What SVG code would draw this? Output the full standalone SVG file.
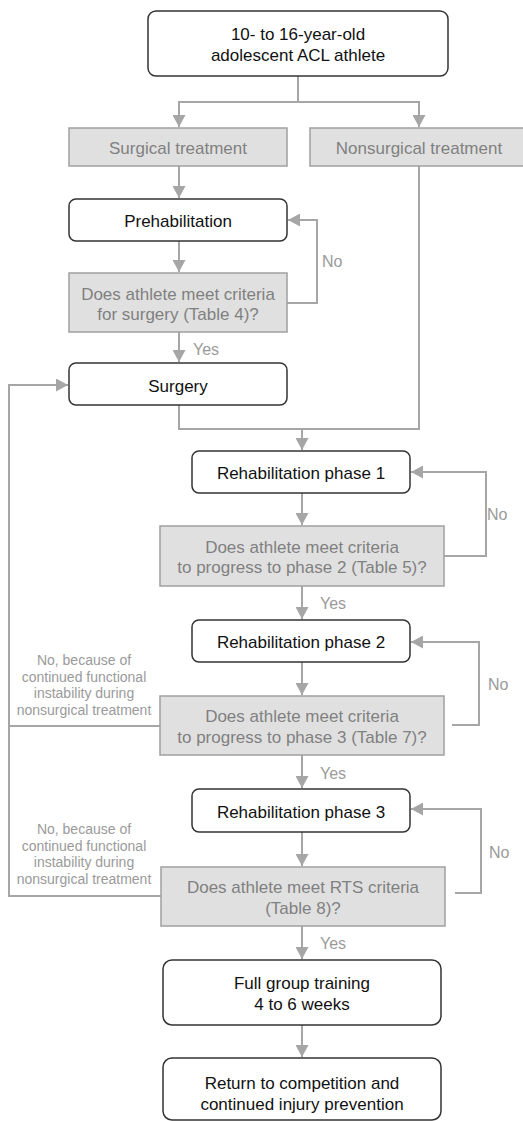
<svg xmlns="http://www.w3.org/2000/svg" width="523" height="1121" viewBox="0 0 523 1121">
<style>
.w{fill:#ffffff;stroke:#333333;stroke-width:1.5}
.g{fill:#e0e0e0;stroke:#a0a0a0;stroke-width:1.5}
.tb{font-family:"Liberation Sans",Arial,sans-serif;font-size:17px;fill:#111111;text-anchor:middle}
.tg{font-family:"Liberation Sans",Arial,sans-serif;font-size:17px;fill:#808080;text-anchor:middle}
.lb{font-family:"Liberation Sans",Arial,sans-serif;font-size:16px;fill:#9a9a9a}
.sm{font-family:"Liberation Sans",Arial,sans-serif;font-size:14px;fill:#9a9a9a;text-anchor:middle}
.c{fill:none;stroke:#a6a6a6;stroke-width:2}
</style>
<defs>
<marker id="ah" markerUnits="userSpaceOnUse" markerWidth="13" markerHeight="13" refX="12" refY="6.5" orient="auto" viewBox="0 0 13 13">
<path d="M0,0 L12,6.5 L0,13 z" fill="#a6a6a6"/>
</marker>
</defs>
<rect width="523" height="1121" fill="#ffffff"/>
<g id="connectors">
<path class="c" d="M298,76 V102 H179 V127" marker-end="url(#ah)"/>
<path class="c" d="M298,102 H419 V127" marker-end="url(#ah)"/>
<path class="c" d="M179,166 V198" marker-end="url(#ah)"/>
<path class="c" d="M179,241 V272" marker-end="url(#ah)"/>
<path class="c" d="M287,303 H317 V220 H288" marker-end="url(#ah)"/>
<path class="c" d="M179,332 V362" marker-end="url(#ah)"/>
<path class="c" d="M179,405 V429 H419 V166"/>
<path class="c" d="M302,429 V450" marker-end="url(#ah)"/>
<path class="c" d="M302,493 V525" marker-end="url(#ah)"/>
<path class="c" d="M444,556 H486 V472 H411" marker-end="url(#ah)"/>
<path class="c" d="M302,586 V619" marker-end="url(#ah)"/>
<path class="c" d="M302,662 V695" marker-end="url(#ah)"/>
<path class="c" d="M452,725 H479 V642 H411" marker-end="url(#ah)"/>
<path class="c" d="M160,726 H9"/>
<path class="c" d="M161,896 H9 V385 H68" marker-end="url(#ah)"/>
<path class="c" d="M302,755 V788" marker-end="url(#ah)"/>
<path class="c" d="M302,832 V866" marker-end="url(#ah)"/>
<path class="c" d="M455,893 H481 V809 H411" marker-end="url(#ah)"/>
<path class="c" d="M302,926 V959" marker-end="url(#ah)"/>
<path class="c" d="M302,1025 V1057" marker-end="url(#ah)"/>
<text class="lb" x="322" y="267">No</text>
<text class="lb" x="193" y="355">Yes</text>
<text class="lb" x="487" y="520">No</text>
<text class="lb" x="320" y="609">Yes</text>
<text class="lb" x="488" y="690">No</text>
<text class="lb" x="320" y="779">Yes</text>
<text class="lb" x="489" y="858">No</text>
<text class="lb" x="320" y="949">Yes</text>
<text class="sm" x="84" y="665">No, because of</text>
<text class="sm" x="84" y="682">continued functional</text>
<text class="sm" x="84" y="698">instability during</text>
<text class="sm" x="84" y="715">nonsurgical treatment</text>
<text class="sm" x="84" y="834">No, because of</text>
<text class="sm" x="84" y="851">continued functional</text>
<text class="sm" x="84" y="867">instability during</text>
<text class="sm" x="84" y="884">nonsurgical treatment</text>
</g>
<g id="start">
<rect class="w" x="148" y="11" width="300" height="65" rx="8"/>
<text class="tb" x="298" y="40">10- to 16-year-old</text>
<text class="tb" x="298" y="61">adolescent ACL athlete</text>
</g>
<g id="surgical">
<rect class="g" x="69" y="128" width="218" height="38"/>
<text class="tg" x="178" y="154">Surgical treatment</text>
</g>
<g id="nonsurgical">
<rect class="g" x="310" y="128" width="218" height="38"/>
<text class="tg" x="419" y="154">Nonsurgical treatment</text>
</g>
<g id="prehab">
<rect class="w" x="69" y="199" width="218" height="42" rx="7"/>
<text class="tb" x="178" y="227">Prehabilitation</text>
</g>
<g id="decision1">
<rect class="g" x="69" y="273" width="218" height="59"/>
<text class="tg" x="178" y="300">Does athlete meet criteria</text>
<text class="tg" x="178" y="320">for surgery (Table 4)?</text>
</g>
<g id="surgery">
<rect class="w" x="69" y="363" width="218" height="42" rx="7"/>
<text class="tb" x="178" y="392">Surgery</text>
</g>
<g id="rehab1">
<rect class="w" x="192" y="451" width="218" height="42" rx="7"/>
<text class="tb" x="301" y="479">Rehabilitation phase 1</text>
</g>
<g id="decision2">
<rect class="g" x="160" y="526" width="284" height="60"/>
<text class="tg" x="302" y="553">Does athlete meet criteria</text>
<text class="tg" x="302" y="573">to progress to phase 2 (Table 5)?</text>
</g>
<g id="rehab2">
<rect class="w" x="192" y="620" width="218" height="42" rx="7"/>
<text class="tb" x="301" y="648">Rehabilitation phase 2</text>
</g>
<g id="decision3">
<rect class="g" x="160" y="696" width="284" height="59"/>
<text class="tg" x="302" y="722">Does athlete meet criteria</text>
<text class="tg" x="302" y="743">to progress to phase 3 (Table 7)?</text>
</g>
<g id="rehab3">
<rect class="w" x="192" y="789" width="218" height="43" rx="7"/>
<text class="tb" x="301" y="818">Rehabilitation phase 3</text>
</g>
<g id="decision4">
<rect class="g" x="161" y="867" width="284" height="59"/>
<text class="tg" x="303" y="893">Does athlete meet RTS criteria</text>
<text class="tg" x="303" y="914">(Table 8)?</text>
</g>
<g id="fullgroup">
<rect class="w" x="163" y="960" width="278" height="65" rx="9"/>
<text class="tb" x="302" y="989">Full group training</text>
<text class="tb" x="302" y="1010">4 to 6 weeks</text>
</g>
<g id="return">
<rect class="w" x="163" y="1058" width="278" height="62" rx="9"/>
<text class="tb" x="302" y="1089">Return to competition and</text>
<text class="tb" x="302" y="1110">continued injury prevention</text>
</g>
</svg>
